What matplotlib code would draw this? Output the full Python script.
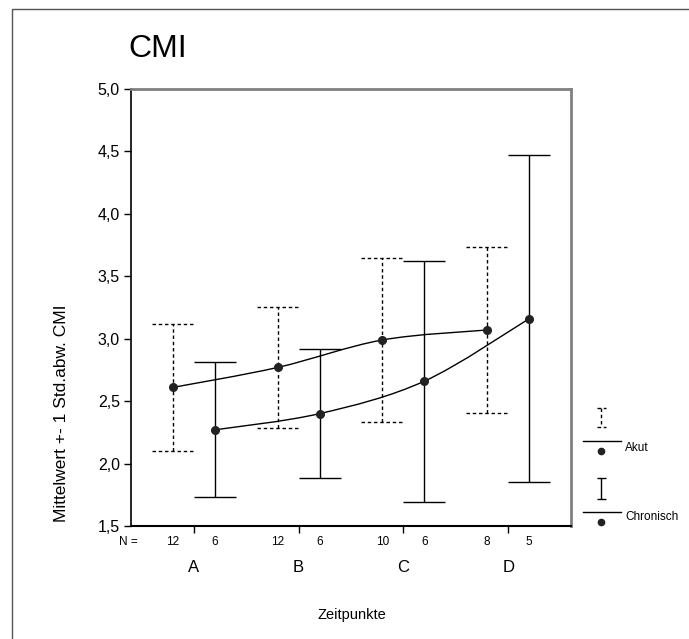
import numpy as np
import matplotlib
matplotlib.use("Agg")
import matplotlib.pyplot as plt
from matplotlib.path import Path
from matplotlib.patches import PathPatch
from matplotlib.ticker import FuncFormatter

plt.rcParams['font.family'] = ['Liberation Sans', 'DejaVu Sans']

# values (mean +- 1 SD)
zeitpunkte = ['A', 'B', 'C', 'D']
n_akut = [12, 12, 10, 8]
n_chron = [6, 6, 6, 5]
mean_akut = [2.61, 2.77, 2.99, 3.07]
sd_akut = [0.51, 0.485, 0.66, 0.665]
mean_chron = [2.27, 2.40, 2.66, 3.16]
sd_chron = [0.54, 0.515, 0.965, 1.31]

W, H = 689, 639
fig = plt.figure(figsize=(W / 100, H / 100), dpi=100)
ax = fig.add_axes([131 / W, 1 - 526 / H, 440 / W, 437 / H])


def smooth_path(xs, ys):
    # catmull-rom through the means, as bezier segments
    pts = np.column_stack([xs, ys])
    ext = np.vstack([pts[0], pts, pts[-1]])
    verts = [pts[0]]
    codes = [Path.MOVETO]
    for i in range(1, len(ext) - 2):
        p0, p1, p2, p3 = ext[i - 1], ext[i], ext[i + 1], ext[i + 2]
        verts += [p1 + (p2 - p0) / 6, p2 - (p3 - p1) / 6, p2]
        codes += [Path.CURVE4] * 3
    return Path(verts, codes)


def draw_group(x, mean, sd, ls):
    x = np.asarray(x)
    mean = np.asarray(mean)
    sd = np.asarray(sd)
    lo, hi = mean - sd, mean + sd
    ax.vlines(x, lo, hi, colors='black', linewidth=1, linestyles=ls)
    ax.hlines(hi, x - 0.2, x + 0.2, colors='black', linewidth=1, linestyles=ls)
    ax.hlines(lo, x - 0.2, x + 0.2, colors='black', linewidth=1, linestyles=ls)
    ax.add_patch(PathPatch(smooth_path(x, mean), fill=False, edgecolor='black', lw=1))
    ax.plot(x, mean, 'o', color='#222222', markersize=5.5, zorder=5)


pos = np.arange(1, len(zeitpunkte) + 1)
dash = (0, (2.5, 2))
draw_group(pos - 0.2, mean_akut, sd_akut, dash)
draw_group(pos + 0.2, mean_chron, sd_chron, 'solid')

ax.set_xlim(0.4, 4.6)
ax.set_ylim(1.5, 5.0)
ax.set_yticks(np.arange(1.5, 5.01, 0.5))
ax.yaxis.set_major_formatter(FuncFormatter(lambda v, p: f"{v:.1f}".replace('.', ',')))
ax.set_xticks(pos)
ax.set_xticklabels([])
ax.tick_params(axis='both', direction='out', length=5, width=1, colors='black', labelsize=11.5)
ax.tick_params(axis='y', pad=3)

for s in ['top', 'right']:
    ax.spines[s].set_color('#808080')
    ax.spines[s].set_linewidth(2)
ax.spines['left'].set_linewidth(1.2)
ax.spines['bottom'].set_linewidth(1.5)

# N counts and time points below the axis
tr = ax.get_xaxis_transform()
ax.text(-0.005, -0.037, 'N =', transform=ax.transAxes, ha='center', va='center', fontsize=8.5)
for i, p in enumerate(pos):
    ax.text(p - 0.2, -0.037, str(n_akut[i]), transform=tr, ha='center', va='center', fontsize=8.5)
    ax.text(p + 0.2, -0.037, str(n_chron[i]), transform=tr, ha='center', va='center', fontsize=8.5)
    ax.text(p, -0.094, zeitpunkte[i], transform=tr, ha='center', va='center', fontsize=12)

# overlay in pixel coords for frame, titles and legend
ov = fig.add_axes([0, 0, 1, 1], zorder=-1)
ov.set_xlim(0, W)
ov.set_ylim(H, 0)
ov.axis('off')
ov.plot([12, 12, W], [H, 9, 9], color='#555555', lw=1)

ov.text(158, 49, 'CMI', ha='center', va='center', fontsize=23)
ov.text(352, 615, 'Zeitpunkte', ha='center', va='center', fontsize=10.5)
ov.text(62, 413, 'Mittelwert +- 1 Std.abw. CMI', rotation=90, ha='center', va='center', fontsize=12.5)

# legend
leg = [('Akut', 408, 427, 441, 451, 448, dash), ('Chronisch', 478, 499, 512, 522, 517, 'solid')]
for label, y0, y1, yl, yd, yt, ls in leg:
    ov.vlines(601, y0, y1, colors='black', lw=1, linestyles=ls)
    ov.hlines([y0, y1], 596.5, 605.5, colors='black', lw=1, linestyles=ls)
    ov.plot([583, 621], [yl, yl], color='black', lw=1)
    ov.plot(601, yd, 'o', color='#222222', markersize=4.5)
    ov.text(625, yt, label, ha='left', va='center', fontsize=8.5)

fig.savefig('out.png', dpi=100)
